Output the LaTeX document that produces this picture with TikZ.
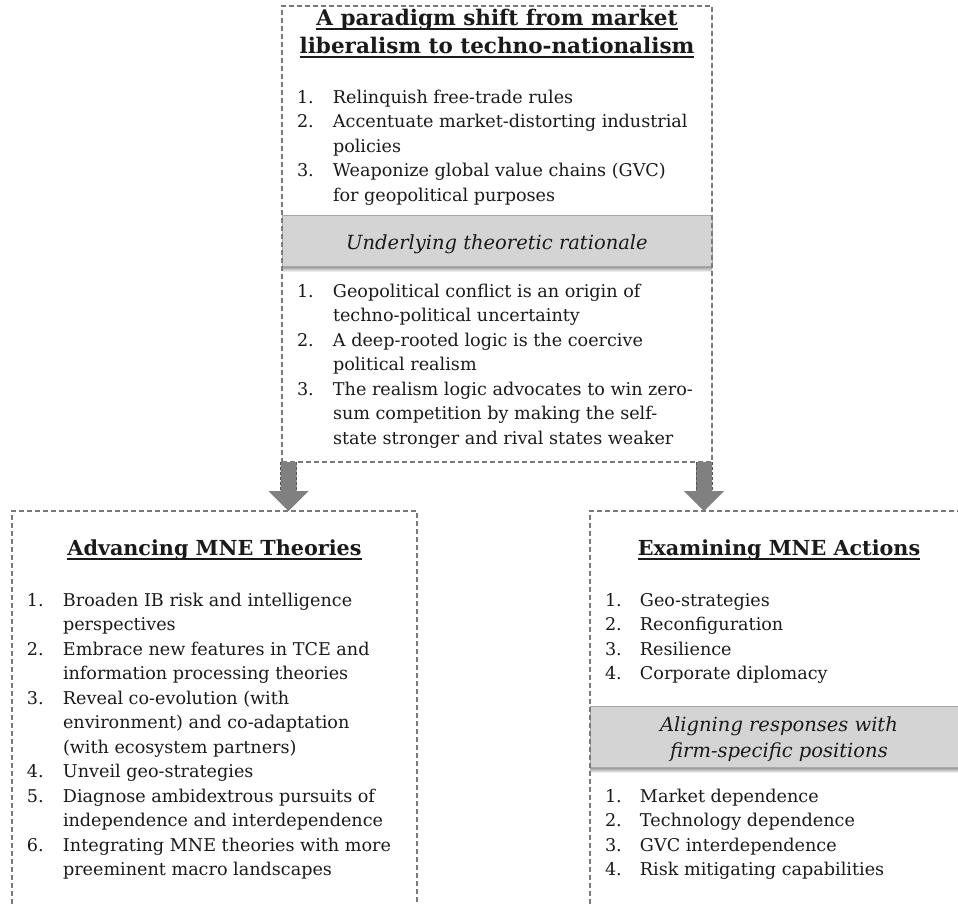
\documentclass[tikz,border=0pt]{standalone}
\usepackage{fontspec}
\setmainfont{DejaVu Serif}
\usetikzlibrary{calc}
\definecolor{dashgray}{HTML}{7A7A7A}
\definecolor{bandgray}{HTML}{D4D4D4}
\definecolor{bandline}{HTML}{A8A8A8}
\definecolor{arrowgray}{HTML}{808080}
\definecolor{txt}{HTML}{1A1A1A}
\newcommand\itemfont{\fontsize{17.6}{24.5}\selectfont}
\newcommand\headfont{\fontsize{20.7}{24.5}\selectfont\bfseries}
\newcommand\bigheadfont{\fontsize{21.5}{24.5}\selectfont\bfseries}
\newcommand\bandfont{\fontsize{19.5}{24.5}\selectfont\itshape}
\newcommand\blockarrow[2]{%
  \fill[arrowgray] ($(#1)+(-8,0)$) -- ($(#2)+(-8,-20)$) -- ($(#2)+(-20,-20)$) -- (#2)
     -- ($(#2)+(20,-20)$) -- ($(#2)+(8,-20)$) -- ($(#1)+(8,0)$) -- cycle;
  \draw[dashgray!70!black, line width=0.9pt, dash pattern=on 3pt off 2pt]
     ($(#1)+(-8,0)$) -- ($(#2)+(-8,-20)$) ($(#1)+(8,0)$) -- ($(#2)+(8,-20)$);
}
\begin{document}
\begin{tikzpicture}[x=1pt,y=-1pt,
  box/.style={draw=dashgray, line width=1.1pt, dash pattern=on 5pt off 3pt,
    anchor=north west, inner sep=0pt, outer sep=0pt},
  band/.style={fill=bandgray, draw=bandline, line width=0.8pt},
  listblock/.style={anchor=north west, inner sep=0pt, outer sep=0pt, font=\itemfont, text=txt},
  heading/.style={anchor=base, inner sep=0pt, outer sep=0pt, font=\headfont, text=txt},
  bighead/.style={heading, font=\bigheadfont},
  bandtext/.style={anchor=base, inner sep=0pt, font=\bandfont, text=txt},
  uline/.style={draw=txt, line width=1.2pt}]
\clip (0,0) rectangle (958,903);
\useasboundingbox (0,0) rectangle (958,903);
\fill[white] (0,0) rectangle (958,903);

% bands with shadows
\shade[top color=black!45, bottom color=white] (282,266) rectangle (712,272);
\draw[band] (282,215) rectangle (712,266);
\shade[top color=black!45, bottom color=white] (590,767) rectangle (975,773);
\draw[band] (590,706) rectangle (975,767);

% boxes
\node[box, minimum width=430pt, minimum height=456pt] (top) at (282,6) {};
\node[box, minimum width=405pt, minimum height=410pt] (left) at (12,511) {};
\node[box, minimum width=385pt, minimum height=410pt] (right) at (590,511) {};

% top box
\node[bighead] (h1) at (497,25) {A paradigm shift from market};
\node[bighead] (h2) at (497,53) {liberalism to techno-nationalism};
\draw[uline] ([yshift=-4pt]h1.base west) -- ([yshift=-4pt]h1.base east);
\draw[uline] ([yshift=-4pt]h2.base west) -- ([yshift=-4pt]h2.base east);

\node[listblock] (l1) at (297,{103-17.15}) {\begin{tabular}{@{}p{36pt}@{}l@{}}
1. & Relinquish free-trade rules\\
2. & Accentuate market-distorting industrial\\
   & policies\\
3. & Weaponize global value chains (GVC)\\
   & for geopolitical purposes
\end{tabular}};
\node[bandtext] (b1) at (497,249) {Underlying theoretic rationale};
\node[listblock] (l2) at (297,{297-17.15}) {\begin{tabular}{@{}p{36pt}@{}l@{}}
1. & Geopolitical conflict is an origin of\\
   & techno-political uncertainty\\
2. & A deep-rooted logic is the coercive\\
   & political realism\\
3. & The realism logic advocates to win zero-\\
   & sum competition by making the self-\\
   & state stronger and rival states weaker
\end{tabular}};

% left box
\node[heading] (h3) at (214.5,555) {Advancing MNE Theories};
\draw[uline] ([yshift=-4pt]h3.base west) -- ([yshift=-4pt]h3.base east);
\node[listblock] (l3) at (27,{606-17.15}) {\begin{tabular}{@{}p{36pt}@{}l@{}}
1. & Broaden IB risk and intelligence\\
   & perspectives\\
2. & Embrace new features in TCE and\\
   & information processing theories\\
3. & Reveal co-evolution (with\\
   & environment) and co-adaptation\\
   & (with ecosystem partners)\\
4. & Unveil geo-strategies\\
5. & Diagnose ambidextrous pursuits of\\
   & independence and interdependence\\
6. & Integrating MNE theories with more\\
   & preeminent macro landscapes
\end{tabular}};

% right box
\node[heading] (h4) at (779,555) {Examining MNE Actions};
\draw[uline] ([yshift=-4pt]h4.base west) -- ([yshift=-4pt]h4.base east);
\node[listblock] (l4) at (605,{606-17.15}) {\begin{tabular}{@{}p{35pt}@{}l@{}}
1. & Geo-strategies\\
2. & Reconfiguration\\
3. & Resilience\\
4. & Corporate diplomacy
\end{tabular}};
\node[bandtext] (b2) at (779,731) {Aligning responses with};
\node[bandtext] (b3) at (779,757) {firm-specific positions};
\node[listblock] (l5) at (605,{802-17.15}) {\begin{tabular}{@{}p{35pt}@{}l@{}}
1. & Market dependence\\
2. & Technology dependence\\
3. & GVC interdependence\\
4. & Risk mitigating capabilities
\end{tabular}};

% arrows
\coordinate (a1s) at ($(top.south west)+(6.5,0)$);
\coordinate (a1e) at (a1s |- left.north);
\coordinate (a2s) at ($(top.south east)+(-8,0)$);
\coordinate (a2e) at (a2s |- right.north);
\blockarrow{a1s}{a1e}
\blockarrow{a2s}{a2e}
\end{tikzpicture}
\end{document}
